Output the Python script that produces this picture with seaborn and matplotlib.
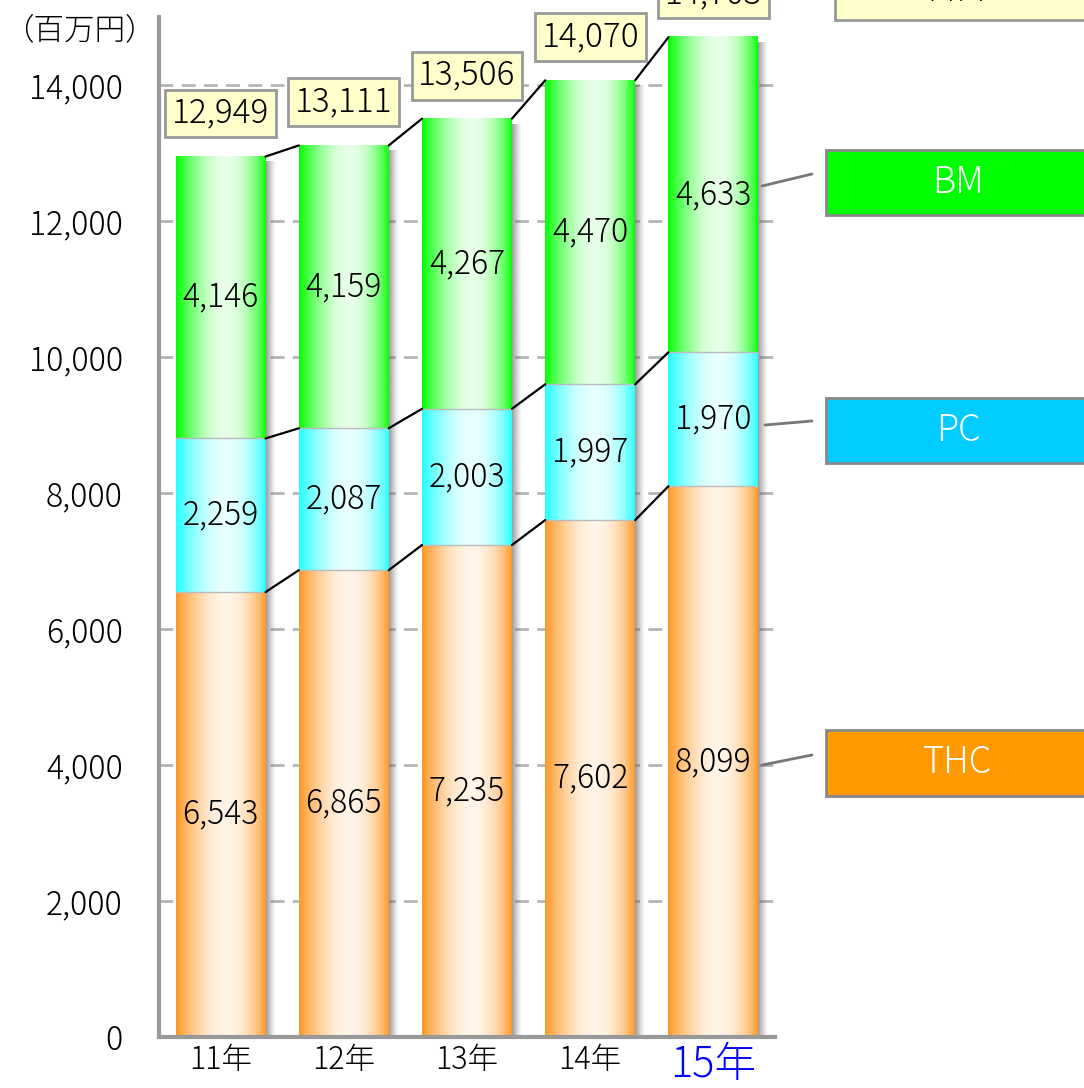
import matplotlib
matplotlib.use("Agg")
import matplotlib.pyplot as plt
from matplotlib.patches import Rectangle
from matplotlib.lines import Line2D
import numpy as np
import seaborn as sns

# data (百万円)
years = ["11年", "12年", "13年", "14年", "15年"]
thc = [6543, 6865, 7235, 7602, 8099]
pc = [2259, 2087, 2003, 1997, 1970]
bm = [4146, 4159, 4267, 4470, 4633]
totals = [12949, 13111, 13506, 14070, 14703]
series_names = ["THC", "PC", "BM"]
total_name = "合計"
unit_label = "（百万円）"
yticks = [0, 2000, 4000, 6000, 8000, 10000, 12000, 14000]

sns.set_style("white")
plt.rcParams['font.family'] = ['Noto Sans CJK JP', 'DejaVu Sans']
plt.rcParams['font.weight'] = 'light'
plt.rcParams['text.color'] = 'black'
plt.rcParams['xtick.color'] = 'black'
plt.rcParams['ytick.color'] = 'black'

edge_cols = {"THC": "#FF9622", "PC": "#22FFFF", "BM": "#00FF00"}
mid_cols = {"THC": "#FFF5E8", "PC": "#E8FFFF", "BM": "#E8FFE8"}
legend_cols = {"THC": "#FF9900", "PC": "#00CCFF", "BM": "#00FF00"}


def gradient_row(edge, mid, n=256):
    t = np.linspace(0, 1, n)
    tt = 1 - (1 - t) ** 0.85
    f = np.sin(np.pi * tt) ** 0.9
    e = np.array(matplotlib.colors.to_rgb(edge))
    m = np.array(matplotlib.colors.to_rgb(mid))
    return (e[None, :] + (m - e)[None, :] * f[:, None])[None, :, :]


fig = plt.figure(figsize=(10.84, 10.88), dpi=100)
ax = fig.add_axes([159 / 1084, 51 / 1088, 616 / 1084, 1020 / 1088])

x = np.arange(len(years))
width = 0.73
stack = [thc, pc, bm]
bottom = np.zeros(len(years))
tops = []
for name, vals in zip(series_names, stack):
    bars = ax.bar(x, vals, width=width, bottom=bottom, color="none", edgecolor="none", zorder=3)
    img = gradient_row(edge_cols[name], mid_cols[name])
    for p, v, b in zip(bars.patches, vals, bottom):
        x0, y0 = p.get_x(), p.get_y()
        ax.imshow(img, extent=(x0, x0 + p.get_width(), y0, y0 + p.get_height()),
                  aspect="auto", interpolation="bilinear", zorder=2)
        ax.text(x0 + p.get_width() / 2, b + v / 2, f"{v:,}", ha="center", va="center",
                fontsize=23, zorder=5)
    bottom = bottom + np.array(vals)
    tops.append(bottom.copy())

# soft shadow on the right side of each column
shadow = np.zeros((1, 64, 4))
shadow[..., :3] = 0.4
shadow[..., 3] = np.linspace(0.7, 0.0, 64) ** 1.2
for xi, top in zip(x, bottom):
    ax.imshow(shadow, extent=(xi + width / 2, xi + width / 2 + 0.08, 0, top - 80),
              aspect="auto", interpolation="bilinear", zorder=1.8)

# thin separators between segments
for lvl in tops[:-1]:
    ax.hlines(lvl, x - width / 2, x + width / 2, color="#BBBBBB", lw=1, zorder=4)

# connector lines between neighbouring columns
for lvl in tops:
    for i in range(len(years) - 1):
        ax.plot([x[i] + width / 2, x[i + 1] - width / 2], [lvl[i], lvl[i + 1]],
                color="black", lw=1.6, zorder=4)

# totals in yellow boxes
for xi, top, tot in zip(x, bottom, totals):
    ax.annotate(f"{tot:,}", xy=(xi, top), xytext=(0, 31), textcoords="offset points",
                ha="center", va="center", fontsize=24, annotation_clip=False, zorder=6,
                bbox=dict(boxstyle="square,pad=0.2", fc="#FFFFCC", ec="#999999", lw=2))

ax.set_xlim(-0.5, len(years) - 0.5)
ax.set_ylim(0, 15000)
ax.set_yticks(yticks)
ax.set_yticklabels([f"{v:,}" for v in yticks], fontsize=23)
ax.set_xticks(x)
ax.set_xticklabels(years, fontsize=22)
lab = ax.get_xticklabels()[-1]
lab.set_color("#0000FF")
lab.set_fontsize(30)
ax.tick_params(axis="y", length=0, pad=26)
ax.tick_params(axis="x", length=0, pad=5)
ax.set_axisbelow(True)
ax.yaxis.grid(True, color="#B5B5B5", lw=2, linestyle=(0, (5, 3)))
for s in ["top", "right"]:
    ax.spines[s].set_visible(False)
for s in ["left", "bottom"]:
    ax.spines[s].set_color("#999999")
    ax.spines[s].set_linewidth(3)

fig.text(3 / 1084, 1 - 30 / 1088, unit_label, fontsize=22, ha="left", va="center")

# legend boxes on the right, with leader lines
W, H = 1084, 1088
legend_rows = {"BM": (150, 215, (762, 186), (812, 174)),
               "PC": (398, 463, (765, 425), (812, 421)),
               "THC": (730, 796, (762, 765), (812, 755))}
for name in series_names:
    ytop, ybot, p0, p1 = legend_rows[name]
    fig.add_artist(Rectangle((826 / W, 1 - ybot / H), 300 / W, (ybot - ytop) / H,
                             transform=fig.transFigure, fc=legend_cols[name], ec="#888888", lw=2))
    fig.text(958 / W, 1 - (ytop + ybot) / 2 / H, name, color="white", fontsize=26,
             ha="center", va="center")
    fig.add_artist(Line2D([p0[0] / W, p1[0] / W], [1 - p0[1] / H, 1 - p1[1] / H],
                          transform=fig.transFigure, color="#777777", lw=2))
fig.add_artist(Rectangle((835 / W, 1 - 20 / H), 300 / W, 60 / H,
                         transform=fig.transFigure, fc="#FFFFCC", ec="#999999", lw=2))
fig.text(958 / W, 1 + 10 / H, total_name, fontsize=24, ha="center", va="center")

fig.savefig("out.png", dpi=100)
